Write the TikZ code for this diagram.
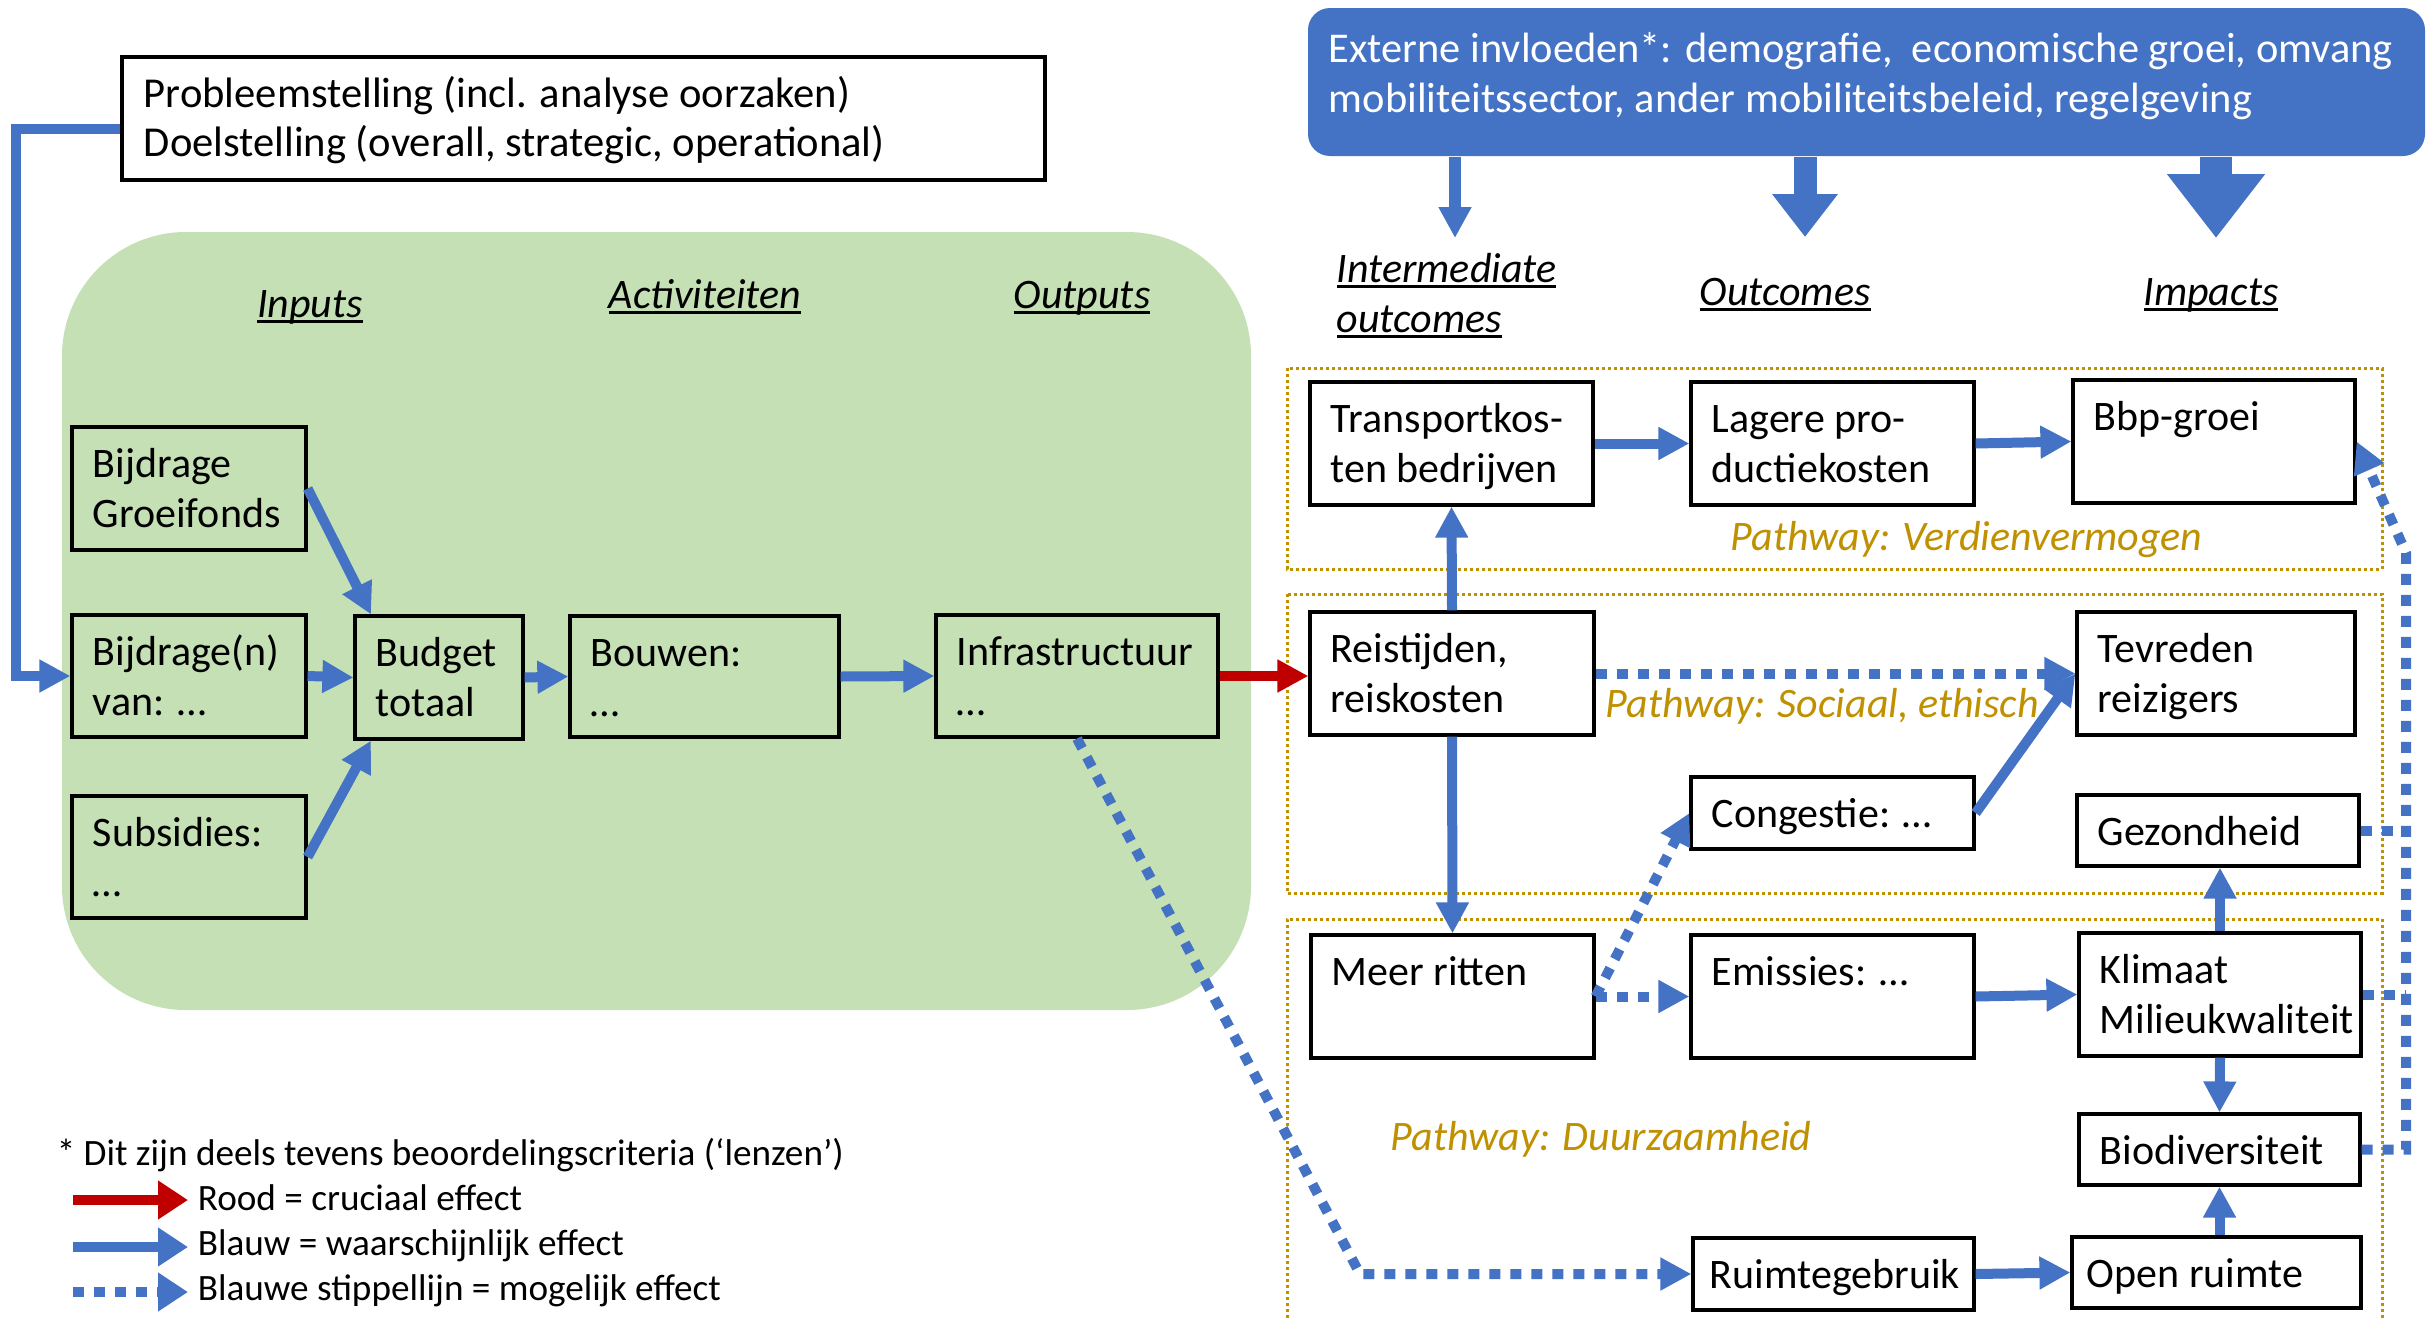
\documentclass[tikz,border=0pt]{standalone}
\usepackage{fontspec}
\setmainfont{Carlito}
\usetikzlibrary{arrows.meta,fit}
\definecolor{ablue}{HTML}{4472C4}
\definecolor{agreen}{HTML}{C5E0B4}
\definecolor{ared}{HTML}{C00000}
\definecolor{agold}{HTML}{BF9000}
\newcommand\ulx[1]{\leavevmode\setbox0\hbox{#1}\rlap{\rule[-1.5pt]{\wd0}{0.7pt}}\box0}
\newcommand\mybox[7][20]{%
  \node[box={(#3,#4)(#5,#6)}] (#2) {};
  \node[txt] (#2t) at (#3+#1,#4+50) {\parbox[t]{20cm}{#7}};}
\begin{document}
\begin{tikzpicture}[x=0.25pt,y=-0.25pt,
  box/.style={draw=black, line width=0.8pt, inner sep=0pt, fit={#1}},
  txt/.style={anchor=base west, inner sep=0pt, font=\fontsize{10.5}{12.5}\selectfont},
  hdr/.style={anchor=base, inner sep=0pt, font=\fontsize{10.5}{12.5}\selectfont\itshape},
  pw/.style={anchor=base west, inner sep=0pt, text=agold, font=\fontsize{10.5}{12.5}\selectfont\itshape},
  leg/.style={anchor=base west, inner sep=0pt, font=\fontsize{9.3}{11}\selectfont},
  conn/.style={draw=ablue, line width=2.5pt, -{Triangle[width=7.75pt,length=7.75pt]}},
  dconn/.style={conn, dash pattern=on 2.75pt off 2.5pt},
  dline/.style={draw=ablue, line width=2.5pt, dash pattern=on 2.75pt off 2.5pt},
  pathbox/.style={draw=agold, line width=0.75pt, dash pattern=on 0.75pt off 0.75pt},
]
\useasboundingbox (0,0) rectangle (2428,1317);

% green area
\fill[agreen, rounded corners=31pt] (62,232) rectangle (1251,1010);

% pathway boxes
\draw[pathbox] (1287,368) rectangle (2382,569);
\draw[pathbox] (1287,594) rectangle (2382,893);
\draw[pathbox] (1287,1330) -- (1287,919) -- (2382,919) -- (2382,1330);

% external influences
\node[fill=ablue, rounded corners=5.5pt, inner sep=0pt, fit={(1308,8)(2425,156)}] (ext) {};
\node[txt, text=white, font=\fontsize{10.6}{12.5}\selectfont] (extt) at (1328,63) {\parbox[t]{20cm}{Externe invloeden*: demografie,\ \ economische groei, omvang\\mobiliteitssector, ander mobiliteitsbeleid, regelgeving}};
\coordinate (ea) at (1455,238);
\coordinate (eb) at (1805,237);
\coordinate (ec) at (2216,238);
\draw[ablue, line width=3pt, -{Triangle[width=7.75pt,length=7.75pt]}] (ea |- ext.south) -- (ea);
\draw[ablue, line width=5.75pt, -{Triangle[width=15.75pt,length=10.75pt]}] (eb |- ext.south) -- (eb);
\draw[ablue, line width=8pt, -{Triangle[width=23.5pt,length=16pt]}] (ec |- ext.south) -- (ec);

% headers
\node[hdr] (hin) at (310,317) {\ulx{Inputs}};
\node[hdr] (hact) at (705,308) {\ulx{Activiteiten}};
\node[hdr] (hout) at (1082,308) {\ulx{Outputs}};
\node[hdr, anchor=base west] (hint) at (1336,282) {\parbox[t]{6cm}{\ulx{Intermediate}\\\ulx{outcomes}}};
\node[hdr] (houtc) at (1785,305) {\ulx{Outcomes}};
\node[hdr] (himp) at (2211,305) {\ulx{Impacts}};

% boxes
\node[box={(122,57)(1045,180)}] (prob) {};
\node[txt, font=\fontsize{10.65}{12.5}\selectfont] (probt) at (143,107) {\parbox[t]{20cm}{Probleemstelling (incl. analyse oorzaken)\\Doelstelling (overall, strategic, operational)}};
\mybox{groei}{72}{427}{306}{550}{Bijdrage\\Groeifonds}
\mybox{bijn}{72}{615}{306}{737}{Bijdrage(n)\\van: …}
\mybox{subs}{72}{796}{306}{918}{Subsidies:\\…}
\mybox{budget}{355}{616}{523}{739}{Budget\\totaal}
\mybox{bouwen}{570}{616}{839}{737}{Bouwen:\\…}
\mybox{infra}{936}{615}{1218}{737}{Infrastructuur\\…}
\mybox{trans}{1310}{382}{1593}{505}{Transportkos-\\ten bedrijven}
\mybox{lagere}{1691}{382}{1974}{505}{Lagere pro-\\ductiekosten}
\mybox{bbp}{2073}{380}{2355}{503}{Bbp-groei}
\mybox{reis}{1310}{612}{1594}{735}{Reistijden,\\reiskosten}
\mybox{tevr}{2077}{612}{2355}{735}{Tevreden\\reizigers}
\mybox{cong}{1691}{777}{1974}{849}{Congestie: …}
\mybox{gez}{2077}{795}{2359}{866}{Gezondheid}
\mybox{meer}{1311}{935}{1594}{1058}{Meer ritten}
\mybox{emis}{1691}{935}{1974}{1058}{Emissies: …}
\mybox{klim}{2079}{933}{2361}{1056}{Klimaat\\Milieukwaliteit}
\mybox{bio}{2079}{1114}{2360}{1185}{Biodiversiteit}
\mybox[16]{ruim}{1693}{1238}{1974}{1310}{Ruimtegebruik}
\mybox[14]{open}{2072}{1237}{2361}{1308}{Open ruimte}

% pathway labels
\node[pw] (pw1) at (1730,550) {Pathway: Verdienvermogen};
\node[pw] (pw2) at (1605,717) {Pathway: Sociaal, ethisch};
\node[pw] (pw3) at (1390,1150) {Pathway: Duurzaamheid};

% connectors left
\draw[conn] ([yshift=-2.5pt]prob.west) -- ++(-104,0) |- (bijn.west);
\draw[conn] (groei.east) -- ([xshift=-17pt]budget.north);
\draw[conn] (subs.east) -- ([xshift=-17pt]budget.south);
\draw[conn] (bijn.east) -- (budget.west);
\draw[conn] (budget.east) -- (bouwen.west);
\draw[conn] (bouwen.east) -- (infra.west);
\draw[conn, draw=ared] (infra.east) -- (infra.east -| reis.west);
\coordinate (bend) at (1360,1274);
\draw[dconn] (infra.south) -- (bend) -- (ruim.west);

% connectors right
\draw[conn] (reis.north) -- (trans.south);
\draw[conn] (trans.east) -- (lagere.west);
\draw[conn] (lagere.east) -- (bbp.west);
\draw[dconn] (reis.east) -- (tevr.west);
\draw[conn] (cong.east) -- (tevr.west);
\draw[conn] (reis.south) -- (meer.north);
\draw[dconn] (meer.east) -- (cong.west);
\draw[dconn] (meer.east) -- (emis.west);
\draw[conn] (emis.east) -- (klim.west);
\draw[conn] (klim.north) -- (klim.north |- gez.south);
\draw[conn] (klim.south) -- (bio.north);
\draw[conn] (bio.south |- open.north) -- (bio.south);
\draw[conn] (ruim.east) -- (open.west);
\coordinate (rv1) at (2406,553);
\draw[dconn] (bio.east) -| (rv1) -- (bbp.east);
\draw[dline] (gez.east) -- (gez.east -| rv1);
\draw[dline] (klim.east) -- (klim.east -| rv1);

% legend
\node[leg] (note) at (56,1165) {* Dit zijn deels tevens beoordelingscriteria (‘lenzen’)};
\node[leg] (lrood) at (197,1210) {Rood = cruciaal effect};
\node[leg] (lblauw) at (197,1255) {Blauw = waarschijnlijk effect};
\node[leg] (lstip) at (197,1300) {Blauwe stippellijn = mogelijk effect};
\coordinate (la) at (73,1200);
\coordinate (lb) at (73,1247);
\coordinate (lc) at (73,1292);
\draw[conn, draw=ared, -{Triangle[width=9.25pt,length=7.5pt]}] (la) -- ++(115,0);
\draw[conn, -{Triangle[width=9.25pt,length=7.5pt]}] (lb) -- ++(115,0);
\draw[dconn, -{Triangle[width=9.25pt,length=7.5pt]}] (lc) -- ++(115,0);
\end{tikzpicture}
\end{document}
